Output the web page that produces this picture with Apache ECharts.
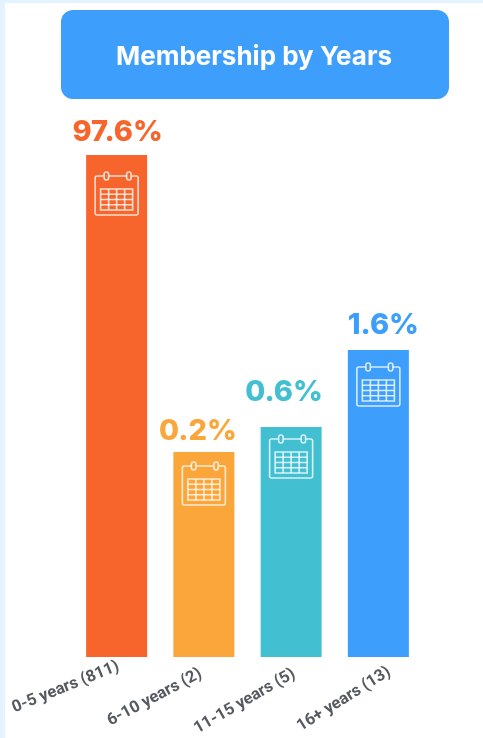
<!DOCTYPE html>
<html>
<head>
<meta charset="utf-8">
<style>html,body{margin:0;padding:0;background:#fff}#chart{width:483px;height:738px}</style>
<script src="https://cdn.jsdelivr.net/npm/echarts@6/dist/echarts.min.js"></script>
</head>
<body>
<div id="chart"></div>
<script>
const chartTitle = 'Membership by Years';
const categories = ['0-5 years (811)', '6-10 years (2)', '11-15 years (5)', '16+ years (13)'];
const shares = [97.6, 0.2, 0.6, 1.6];
const barColors = ['#f7652c', '#faa63a', '#43bfd2', '#3d9efb'];
// Distance from each bar's top down to its calendar icon, in pixels
const iconDrop = [17, 10, 8, 13];
// Nudges that place each percentage label over its bar, in pixels
const labelNudge = [[1, 1], [-6, 3], [-7, -11], [5, -1]];
// Hand-set slant of each category label, and where its right end sits below the bar
const categoryTilt = [22, 28, 30, 32];
const categoryAnchor = [[2, 9], [-3, 16], [3, 16], [11, 14]];

const chart = echarts.init(document.getElementById('chart'), null, { renderer: 'canvas' });

// Calendar glyph: a rounded box with two binder rings and a 4x4 day grid
function calendarIcon(cx, top, fill) {
  const x = cx - 22;
  const stroke = { stroke: 'rgba(255,255,255,0.78)', lineWidth: 1.6, fill: null };
  const ring = { stroke: 'rgba(255,255,255,0.78)', lineWidth: 1.6, fill };
  const parts = [
    { type: 'rect', shape: { x: x + 0.5, y: top + 4, width: 43, height: 39, r: 2 }, style: stroke },
    { type: 'rect', shape: { x: x + 9.5, y: top, width: 4.5, height: 8, r: 2.2 }, style: ring },
    { type: 'rect', shape: { x: x + 32, y: top, width: 4.5, height: 8, r: 2.2 }, style: ring },
    { type: 'rect', shape: { x: x + 6, y: top + 17, width: 32, height: 21 }, style: stroke }
  ];
  for (let c = 1; c < 4; c++) {
    const gx = x + 6 + c * 8;
    parts.push({ type: 'line', shape: { x1: gx, y1: top + 17, x2: gx, y2: top + 38 }, style: stroke });
  }
  for (let r = 1; r < 4; r++) {
    const gy = top + 17 + r * 5.25;
    parts.push({ type: 'line', shape: { x1: x + 6, y1: gy, x2: x + 38, y2: gy }, style: stroke });
  }
  return parts;
}

chart.setOption({
  backgroundColor: '#ffffff',
  animation: false,
  title: {
    text: chartTitle,
    left: 249, top: 39, textAlign: 'center',
    textStyle: { color: '#ffffff', fontFamily: 'Inter', fontWeight: 700, fontSize: 26 }
  },
  graphic: [
    { type: 'rect', silent: true, z: -1, shape: { x: 0, y: 0, width: 5, height: 738 }, style: { fill: '#e3f3ff' } },
    { type: 'rect', silent: true, z: -1, shape: { x: 0, y: 0, width: 483, height: 3 }, style: { fill: '#e3f3ff' } },
    { type: 'rect', silent: true, z: -1, shape: { x: 61, y: 10, width: 388, height: 89, r: 12 }, style: { fill: '#3d9efb' } }
  ],
  grid: { left: 73, right: 61, top: 155, bottom: 81 },
  xAxis: {
    type: 'category',
    data: categories,
    axisLine: { show: false },
    axisTick: { show: false },
    axisLabel: { show: false }
  },
  yAxis: {
    type: 'value',
    min: 0, max: 97.6,
    show: false,
    splitLine: { show: false },
    // The scale is compressed outside 0.2-0.6 so the small shares stay readable
    breaks: [
      { start: 0, end: 0.2, gap: 3.28 },
      { start: 0.6, end: 1.6, gap: 1.232 },
      { start: 1.6, end: 97.6, gap: 3.12 }
    ]
  },
  series: [
    {
      type: 'bar',
      barWidth: 61,
      data: shares.map((v, i) => ({
        value: v,
        itemStyle: { color: barColors[i] },
        label: { offset: labelNudge[i] }
      })),
      label: {
        show: true,
        position: 'top',
        distance: 9,
        formatter: p => p.value + '%',
        fontFamily: 'Inter',
        fontWeight: 800,
        fontSize: 29,
        color: 'inherit'
      }
    },
    {
      type: 'custom',
      silent: true,
      z: 5,
      data: shares.map((v, i) => [i, v]),
      encode: { x: 0, y: 1 },
      renderItem: (params, api) => {
        const i = params.dataIndex;
        const pt = api.coord([api.value(0), api.value(1)]);
        return { type: 'group', children: calendarIcon(pt[0], pt[1] + iconDrop[i], barColors[i]) };
      }
    },
    {
      // Category names, slanted individually below the baseline
      type: 'custom',
      silent: true,
      clip: false,
      data: categories.map((c, i) => [i, 0]),
      encode: { x: 0, y: 1 },
      renderItem: (params, api) => {
        const i = params.dataIndex;
        const pt = api.coord([api.value(0), 0]);
        return {
          type: 'text',
          x: pt[0] + categoryAnchor[i][0],
          y: pt[1] + categoryAnchor[i][1],
          rotation: categoryTilt[i] * Math.PI / 180,
          style: {
            text: categories[i],
            align: 'right',
            verticalAlign: 'middle',
            fill: '#555a60',
            font: '700 16.5px Roboto'
          }
        };
      }
    }
  ]
});
</script>
</body>
</html>
